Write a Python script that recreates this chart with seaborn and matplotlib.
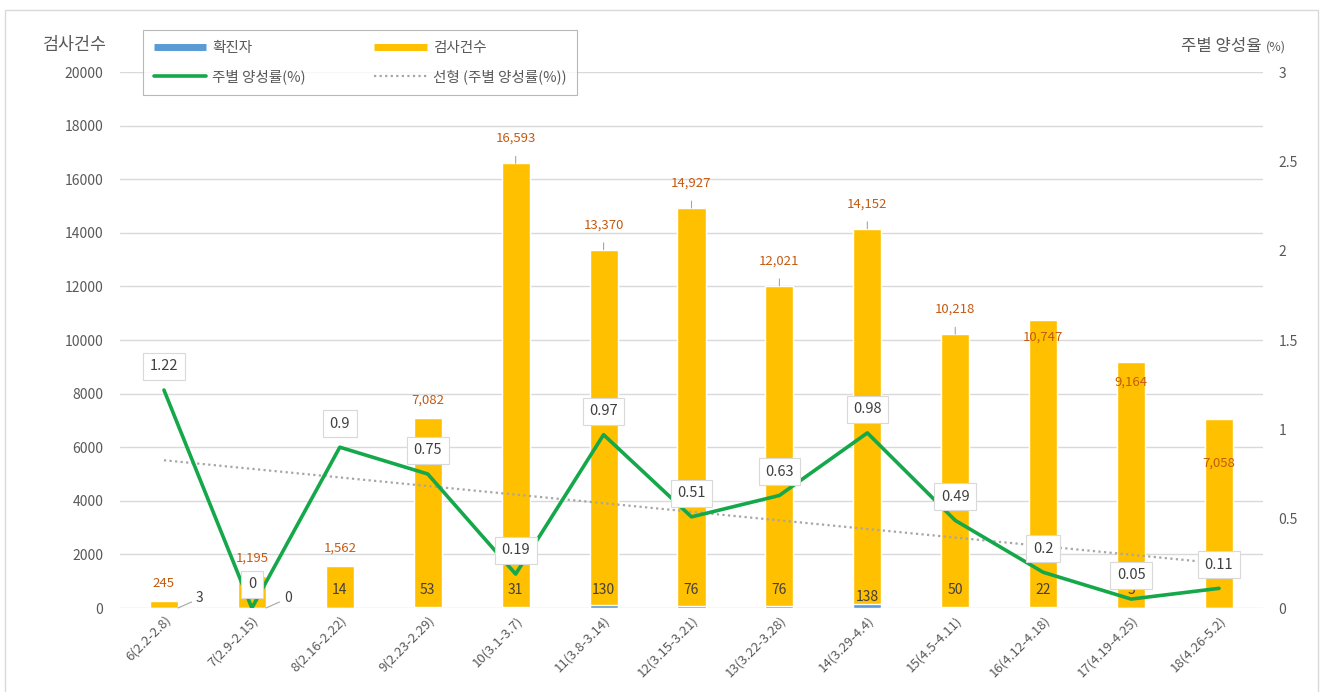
import numpy as np
import pandas as pd
import matplotlib
matplotlib.use('Agg')
import matplotlib.pyplot as plt
from matplotlib.lines import Line2D
from matplotlib.patches import Rectangle
import seaborn as sns

# weekly data
weeks = ['6(2.2-2.8)', '7(2.9-2.15)', '8(2.16-2.22)', '9(2.23-2.29)', '10(3.1-3.7)',
         '11(3.8-3.14)', '12(3.15-3.21)', '13(3.22-3.28)', '14(3.29-4.4)',
         '15(4.5-4.11)', '16(4.12-4.18)', '17(4.19-4.25)', '18(4.26-5.2)']
tests = [245, 1195, 1562, 7082, 16593, 13370, 14927, 12021, 14152, 10218, 10747, 9164, 7058]
confirmed = [3, 0, 14, 53, 31, 130, 76, 76, 138, 50, 22, 5, 8]
rate = [1.22, 0, 0.9, 0.75, 0.19, 0.97, 0.51, 0.63, 0.98, 0.49, 0.2, 0.05, 0.11]

df = pd.DataFrame({'week': weeks, 'tests': tests, 'confirmed': confirmed, 'rate': rate})

sns.set_theme(style='white')
plt.rcParams['font.family'] = ['Noto Sans CJK KR', 'DejaVu Sans']

YELLOW = '#FFC000'
BLUE = '#5B9BD5'
GREEN = '#14A84A'
GRAY = '#595959'

fig = plt.figure(figsize=(13.24, 6.92), dpi=100)
ax1 = fig.add_axes([120 / 1324, 84 / 692, 1143 / 1324, 536 / 692])

# bars: tests and confirmed overlapping on the same axis
sns.barplot(data=df, x='week', y='tests', color=YELLOW, width=0.32, ax=ax1,
            saturation=1, zorder=2)
sns.barplot(data=df, x='week', y='confirmed', color=BLUE, width=0.32, ax=ax1,
            saturation=1, zorder=3)

ax1.set_xlim(-0.5, len(weeks) - 0.5)
ax1.set_ylim(0, 20000)
ax1.set_yticks(range(0, 20001, 2000))
ax1.yaxis.grid(True, color='#D9D9D9', lw=1)
ax1.set_axisbelow(True)
ax1.set_xlabel('')
ax1.set_ylabel('')
for s in ax1.spines.values():
    s.set_visible(False)
ax1.tick_params(axis='y', colors=GRAY, labelsize=10, length=0, pad=12)
ax1.tick_params(axis='x', colors=GRAY, labelsize=9.5, length=0, pad=4)
plt.setp(ax1.get_xticklabels(), rotation=45, ha='right', rotation_mode='anchor')

# test count labels
inside = {10: -12, 11: -14, 12: -32}
for i, v in enumerate(tests):
    if i in inside:
        ax1.annotate(f'{v:,}', (i, v), xytext=(0, inside[i]), textcoords='offset points',
                     ha='center', va='center', fontsize=9.5, color='#C55A11', zorder=5)
    elif v > 10000:
        ax1.annotate(f'{v:,}', (i, v), xytext=(0, 18), textcoords='offset points',
                     ha='center', va='center', fontsize=9.5, color='#C55A11',
                     arrowprops=dict(arrowstyle='-', color='#A6A6A6', lw=0.8,
                                     shrinkA=6, shrinkB=0))
    else:
        ax1.annotate(f'{v:,}', (i, v), xytext=(0, 13), textcoords='offset points',
                     ha='center', va='center', fontsize=9.5, color='#C55A11')

# confirmed labels (last one sits under the line end in the original)
for i, v in enumerate(confirmed[:-1]):
    if i in (0, 1):
        ax1.annotate(f'{v}', (i + 0.16, 0), xytext=(13, 7), textcoords='offset points',
                     ha='left', va='center', fontsize=10, color='#404040',
                     arrowprops=dict(arrowstyle='-', color='#A6A6A6', lw=0.8,
                                     shrinkA=1, shrinkB=0))
    else:
        dy = 8 if i == 8 else 13
        ax1.annotate(f'{v}', (i, 0), xytext=(0, dy), textcoords='offset points',
                     ha='center', va='center', fontsize=10, color='#404040', zorder=5)

# rate line on secondary axis
ax2 = ax1.twinx()
x = np.arange(len(weeks))
sns.lineplot(x=x, y=rate, ax=ax2, color=GREEN, lw=2.6, zorder=4)
slope, intercept = np.polyfit(x, rate, 1)
ax2.plot(x, slope * x + intercept, color='#A6A6A6', lw=1.6, ls=(0, (1, 1.5)), zorder=3)
ax2.set_ylim(0, 3)
ax2.set_yticks(np.arange(0, 3.01, 0.5))
ax2.set_yticklabels(['0', '0.5', '1', '1.5', '2', '2.5', '3'])
ax2.tick_params(axis='y', colors=GRAY, labelsize=10, length=0, pad=11)
for s in ax2.spines.values():
    s.set_visible(False)

for i, v in enumerate(rate):
    ax2.annotate(f'{v:g}', (i, v), xytext=(0, 17), textcoords='offset points',
                 ha='center', va='center', fontsize=10.5, color='#404040', zorder=6,
                 bbox=dict(boxstyle='square,pad=0.45', fc='white', ec='#D9D9D9', lw=0.8))

# axis titles
fig.text(75 / 1324, 1 - 45 / 692, '검사건수', ha='center', va='center', fontsize=12.5, color=GRAY)
fig.text(1262 / 1324, 1 - 46 / 692, '주별 양성율', ha='right', va='center',
         fontsize=12, color=GRAY)
fig.text(1266 / 1324, 1 - 47 / 692, '(%)', ha='left', va='center',
         fontsize=9, color=GRAY)

# legend
handles = [
    Line2D([], [], color=BLUE, lw=5, solid_capstyle='butt'),
    Line2D([], [], color=GREEN, lw=2.6),
    Line2D([], [], color=YELLOW, lw=5, solid_capstyle='butt'),
    Line2D([], [], color='#A6A6A6', lw=1.6, ls=(0, (1, 1.5))),
]
labels = ['확진자', '주별 양성률(%)', '검사건수', '선형 (주별 양성률(%))']
leg = fig.legend(handles, labels, ncol=2, loc='upper left',
                 bbox_to_anchor=(143 / 1324, 1 - 30 / 692), fontsize=10.5,
                 frameon=True, fancybox=False, edgecolor='#A6A6A6', handlelength=3.6,
                 columnspacing=4.7, labelspacing=1.0, borderpad=0.75, handletextpad=0.4,
                 borderaxespad=0)
leg.get_frame().set_linewidth(0.8)
for t in leg.get_texts():
    t.set_color(GRAY)

fig.patches.append(Rectangle((5 / 1324, -0.01), 1313 / 1324, 1 - 10 / 692 + 0.01,
                             transform=fig.transFigure, fill=False, ec='#D9D9D9', lw=1))

fig.savefig('out.png', dpi=100)
